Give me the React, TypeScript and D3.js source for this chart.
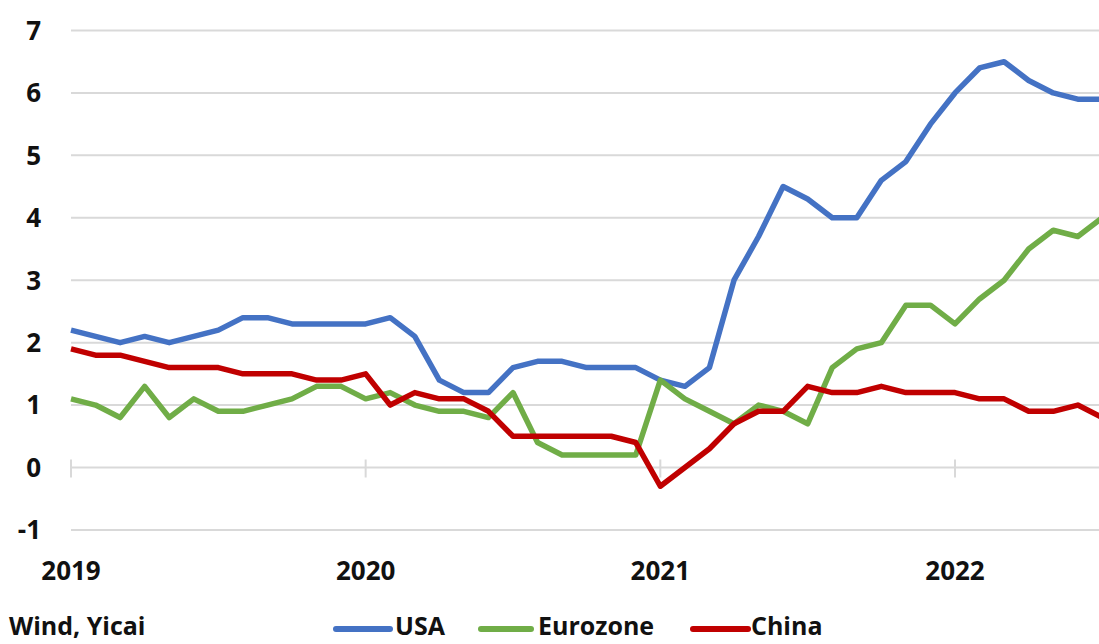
import React from "react";
import * as d3 from "d3";

// Monthly inflation readings, Jan 2019 onward (month index 0 = Jan 2019)
const usa = [
  2.2, 2.1, 2.0, 2.1, 2.0, 2.1, 2.2, 2.4, 2.4, 2.3, 2.3, 2.3,
  2.3, 2.4, 2.1, 1.4, 1.2, 1.2, 1.6, 1.7, 1.7, 1.6, 1.6, 1.6,
  1.4, 1.3, 1.6, 3.0, 3.7, 4.5, 4.3, 4.0, 4.0, 4.6, 4.9, 5.5,
  6.0, 6.4, 6.5, 6.2, 6.0, 5.9, 5.9,
];
const eurozone = [
  1.1, 1.0, 0.8, 1.3, 0.8, 1.1, 0.9, 0.9, 1.0, 1.1, 1.3, 1.3,
  1.1, 1.2, 1.0, 0.9, 0.9, 0.8, 1.2, 0.4, 0.2, 0.2, 0.2, 0.2,
  1.4, 1.1, 0.9, 0.7, 1.0, 0.9, 0.7, 1.6, 1.9, 2.0, 2.6, 2.6,
  2.3, 2.7, 3.0, 3.5, 3.8, 3.7, 4.0,
];
const china = [
  1.9, 1.8, 1.8, 1.7, 1.6, 1.6, 1.6, 1.5, 1.5, 1.5, 1.4, 1.4,
  1.5, 1.0, 1.2, 1.1, 1.1, 0.9, 0.5, 0.5, 0.5, 0.5, 0.5, 0.4,
  -0.3, 0.0, 0.3, 0.7, 0.9, 0.9, 1.3, 1.2, 1.2, 1.3, 1.2, 1.2,
  1.2, 1.1, 1.1, 0.9, 0.9, 1.0, 0.8,
];

const yearLabels = ["2019", "2020", "2021", "2022"];
const yTicks = [-1, 0, 1, 2, 3, 4, 5, 6, 7];
const sourceText = "Wind, Yicai";

const series = [
  { name: "USA", values: usa, color: "#4472C4" },
  { name: "Eurozone", values: eurozone, color: "#70AD47" },
  { name: "China", values: china, color: "#C00000" },
];

const W = 1099;
const H = 644;
const FONT = "'Open Sans', sans-serif";

export default function App() {
  // month index -> pixel; one year spans 12 months
  const x = d3.scaleLinear().domain([0, 36]).range([71, 955]);
  const y = d3.scaleLinear().domain([0, 7]).range([467.5, 30.5]);

  const line = d3
    .line<number>()
    .x((_, i) => x(i))
    .y((d) => y(d));

  const legendItems = [
    { x1: 336, x2: 390, tx: 395 },
    { x1: 481, x2: 531, tx: 538 },
    { x1: 693, x2: 748, tx: 751 },
  ];

  return (
    <div style={{ position: "absolute", left: 0, top: 0 }}>
      <svg width={W} height={H} style={{ display: "block", background: "#fff" }}>
        {/* horizontal gridlines */}
        {yTicks.map((t) => (
          <line
            key={t}
            x1={71}
            x2={W}
            y1={y(t)}
            y2={y(t)}
            stroke="#d9d9d9"
            strokeWidth={2}
          />
        ))}
        {/* year tick marks on the zero line */}
        {yearLabels.map((_, i) => (
          <line
            key={i}
            x1={x(i * 12)}
            x2={x(i * 12)}
            y1={y(0) - 8}
            y2={y(0) + 10}
            stroke="#d9d9d9"
            strokeWidth={2}
          />
        ))}
        {/* y labels */}
        {yTicks.map((t) => (
          <text
            key={t}
            x={41}
            y={y(t)}
            dy="0.36em"
            textAnchor="end"
            fontFamily={FONT}
            fontWeight={700}
            fontSize={26}
            fill="#111"
          >
            {t}
          </text>
        ))}
        {/* x labels */}
        {yearLabels.map((lab, i) => (
          <text
            key={lab}
            x={x(i * 12)}
            y={580}
            textAnchor="middle"
            fontFamily={FONT}
            fontWeight={700}
            fontSize={26}
            fill="#111"
          >
            {lab}
          </text>
        ))}
        {/* series */}
        {series.map((s) => (
          <path
            key={s.name}
            d={line(s.values) ?? ""}
            fill="none"
            stroke={s.color}
            strokeWidth={5.5}
            strokeLinejoin="round"
          />
        ))}
        {/* source */}
        <text
          x={9}
          y={635}
          fontFamily={FONT}
          fontWeight={700}
          fontSize={25}
          fill="#111"
        >
          {sourceText}
        </text>
        {/* legend */}
        {series.map((s, i) => (
          <g key={s.name}>
            <line
              x1={legendItems[i].x1}
              x2={legendItems[i].x2}
              y1={629}
              y2={629}
              stroke={s.color}
              strokeWidth={6}
              strokeLinecap="round"
            />
            <text
              x={legendItems[i].tx}
              y={635}
              fontFamily={FONT}
              fontWeight={700}
              fontSize={25}
              fill="#111"
            >
              {s.name}
            </text>
          </g>
        ))}
      </svg>
    </div>
  );
}
